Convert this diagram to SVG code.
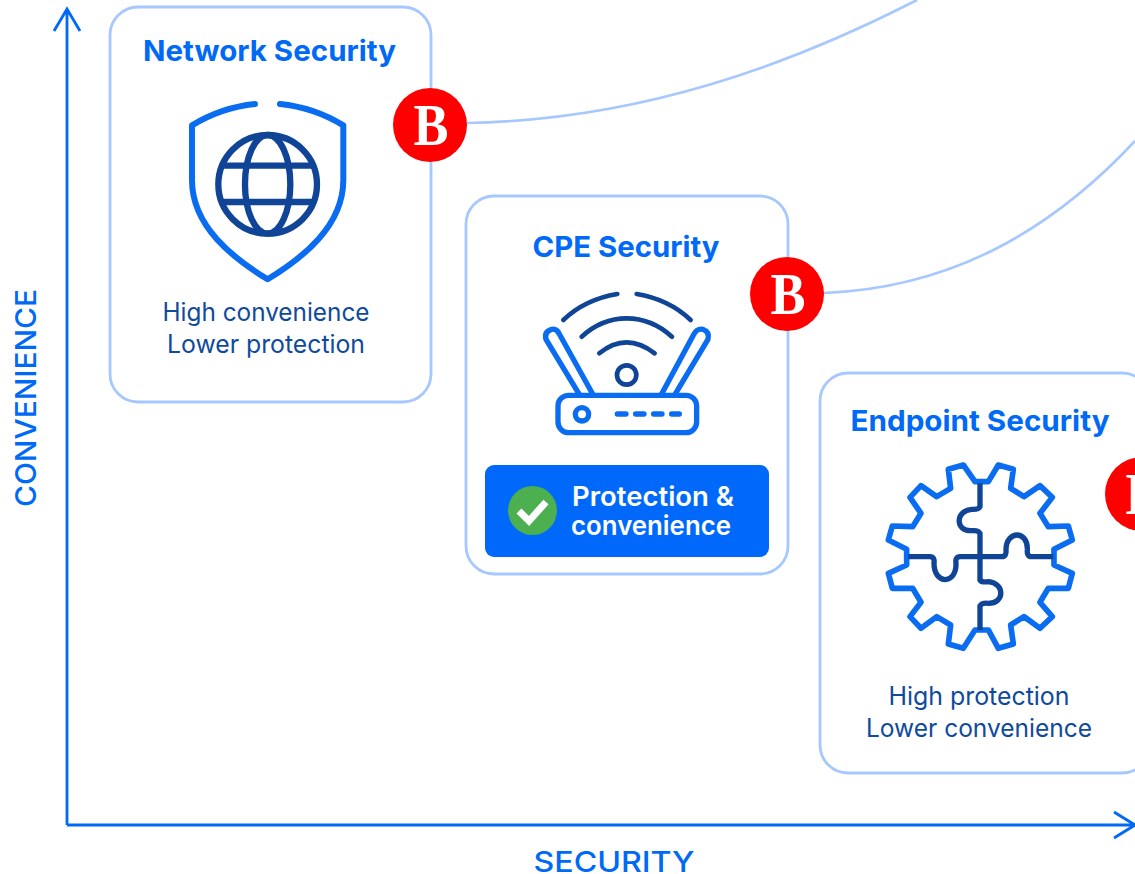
<svg xmlns="http://www.w3.org/2000/svg" width="1135" height="874" viewBox="0 0 1135 874">
<style>
text{font-family:"Inter","Noto Sans","Liberation Sans",sans-serif}
.card{fill:#fff;stroke:#a6c8ff;stroke-width:2.800}
.title{font-size:29px;font-weight:700;fill:#0069f5;text-anchor:middle}
.sub{font-size:25px;fill:#0f4a9c;text-anchor:middle}
.axis{font-size:29px;font-weight:500;fill:#0069f5;text-anchor:middle}
.ax{fill:none;stroke:#0069f5;stroke-width:2.800}
.curve{fill:none;stroke:#a6c8ff;stroke-width:2.600}
.bg{fill:#f00}
.b{font-family:"Liberation Serif",serif;font-size:60px;font-weight:700;fill:#fff;text-anchor:middle}
.btn{font-size:27px;font-weight:600;fill:#fff}
</style>
<rect width="1135" height="874" fill="#fff"/>
<g id="connectors">
<path class="curve" d="M467 123C640 120 790 65 917 0"/>
<path class="curve" d="M824 293C950 288 1050 232 1135 141"/>
<path class="ax" d="M67 825V10M54 31L67 9L80 31"/>
<path class="ax" d="M67 825H1135M1114 812L1135 825L1114 838"/>
</g>
<g id="network-security">
<rect class="card" x="110" y="7" width="321" height="395" rx="28"/>
<text class="title" x="269.500" y="61" textLength="253" lengthAdjust="spacingAndGlyphs">Network Security</text>
<g transform="translate(100 0) scale(.3333)">
<path style="fill:none;stroke:#0a6cf0;stroke-width:18;stroke-linecap:round;stroke-linejoin:round" d="M465 312Q365 322 276 376V540C276 680 400 775 503 838C606 775 730 680 730 540V376Q641 322 540 312"/>
<g style="fill:none;stroke:#0f4496;stroke-width:19">
<circle cx="503" cy="553" r="148"/><ellipse cx="503" cy="553" rx="68" ry="148"/>
<path d="M365 497H641M365 606H641"/></g>
</g>
<text class="sub" x="266" y="321" textLength="207" lengthAdjust="spacingAndGlyphs">High convenience</text>
<text class="sub" x="266" y="353" textLength="198" lengthAdjust="spacingAndGlyphs">Lower protection</text>
</g>
<g id="badge-1"><circle class="bg" cx="430" cy="125" r="37"/><text class="b" x="431" y="145" textLength="35" lengthAdjust="spacingAndGlyphs">B</text></g>
<g id="cpe-security">
<rect class="card" x="466" y="196" width="322" height="378" rx="28"/>
<text class="title" x="626" y="257" textLength="187" lengthAdjust="spacingAndGlyphs">CPE Security</text>
<g transform="translate(470 260) scale(.3333)">
<g style="fill:none;stroke:#0f4496;stroke-width:14;stroke-linecap:round">
<path d="M280 180Q345 118 442 102M500 102Q597 118 662 180"/>
<path d="M335 230Q395 175 470 175Q545 175 606 230"/>
<path d="M388 280Q428 247 470 247Q512 247 554 280"/>
<circle cx="470" cy="345" r="29"/>
</g>
<g style="fill:none;stroke:#0a6cf0;stroke-width:16;stroke-linecap:round;stroke-linejoin:round">
<rect x="264" y="406" width="416" height="112" rx="32"/>
<circle cx="336" cy="463" r="20"/>
<path d="M442 462H468M497 462H522M551 462H576M605 462H628"/>
<path d="M327 402L228 238Q222 215 245 208Q260 205 268 222L368 402"/>
<path d="M575 402L672 222Q682 205 698 208Q720 216 714 238L616 402"/>
</g>
</g>
<rect x="485" y="465" width="284" height="92" rx="9" fill="#0069fb"/>
<circle cx="532.500" cy="510.500" r="24.500" fill="#4caf50"/>
<path d="M519 511L529 521L546 502" fill="none" stroke="#fff" stroke-width="7"/>
<text class="btn" x="572" y="506" textLength="162" lengthAdjust="spacingAndGlyphs">Protection &amp;</text>
<text class="btn" x="571" y="535" textLength="160" lengthAdjust="spacingAndGlyphs">convenience</text>
</g>
<g id="badge-2"><circle class="bg" cx="787" cy="294" r="37"/><text class="b" x="788" y="314" textLength="35" lengthAdjust="spacingAndGlyphs">B</text></g>
<g id="endpoint-security">
<rect class="card" x="820" y="373" width="330" height="400" rx="28"/>
<text class="title" x="980" y="431" textLength="259" lengthAdjust="spacingAndGlyphs">Endpoint Security</text>
<g transform="translate(860 440) scale(.3333)">
<path style="fill:none;stroke:#0a6cf0;stroke-width:17;stroke-linejoin:round" d="M345 125L310 75L265 88L272 145L230 170L183 137L150 172L183 220L158 260L97 258L85 300L140 328V375L85 400L97 445H158L183 487L150 530L183 565L230 530L272 555L265 612L310 625L345 570H385L415 625L460 612L452 555L492 530L540 565L577 530L540 487L565 445H625L637 400L582 375V328L637 300L625 258L565 260L540 220L577 172L540 137L492 170L452 145L460 88L415 75L385 125Z"/>
<path style="fill:none;stroke:#0f4496;stroke-width:16" d="M360 130V200Q355 210 335 208C285 212 285 275 335 272Q355 270 360 280V420Q365 428 385 425C435 430 435 490 385 490Q365 488 360 498V570"/>
<path style="fill:none;stroke:#0f4496;stroke-width:16" d="M145 350H210Q225 350 222 370C222 435 290 435 288 370Q285 350 300 350H425Q440 350 438 330C438 270 505 270 502 330Q500 350 515 350H580"/>
</g>
<text class="sub" x="979" y="705" textLength="181" lengthAdjust="spacingAndGlyphs">High protection</text>
<text class="sub" x="979" y="737" textLength="226" lengthAdjust="spacingAndGlyphs">Lower convenience</text>
</g>
<g id="badge-3"><circle class="bg" cx="1142" cy="494" r="37"/><text class="b" x="1143" y="514" textLength="35" lengthAdjust="spacingAndGlyphs">B</text></g>
<text class="axis" x="614" y="871.500" textLength="161" lengthAdjust="spacingAndGlyphs">SECURITY</text>
<text class="axis" transform="translate(36 398) rotate(-90)" textLength="218" lengthAdjust="spacingAndGlyphs">CONVENIENCE</text>
</svg>
